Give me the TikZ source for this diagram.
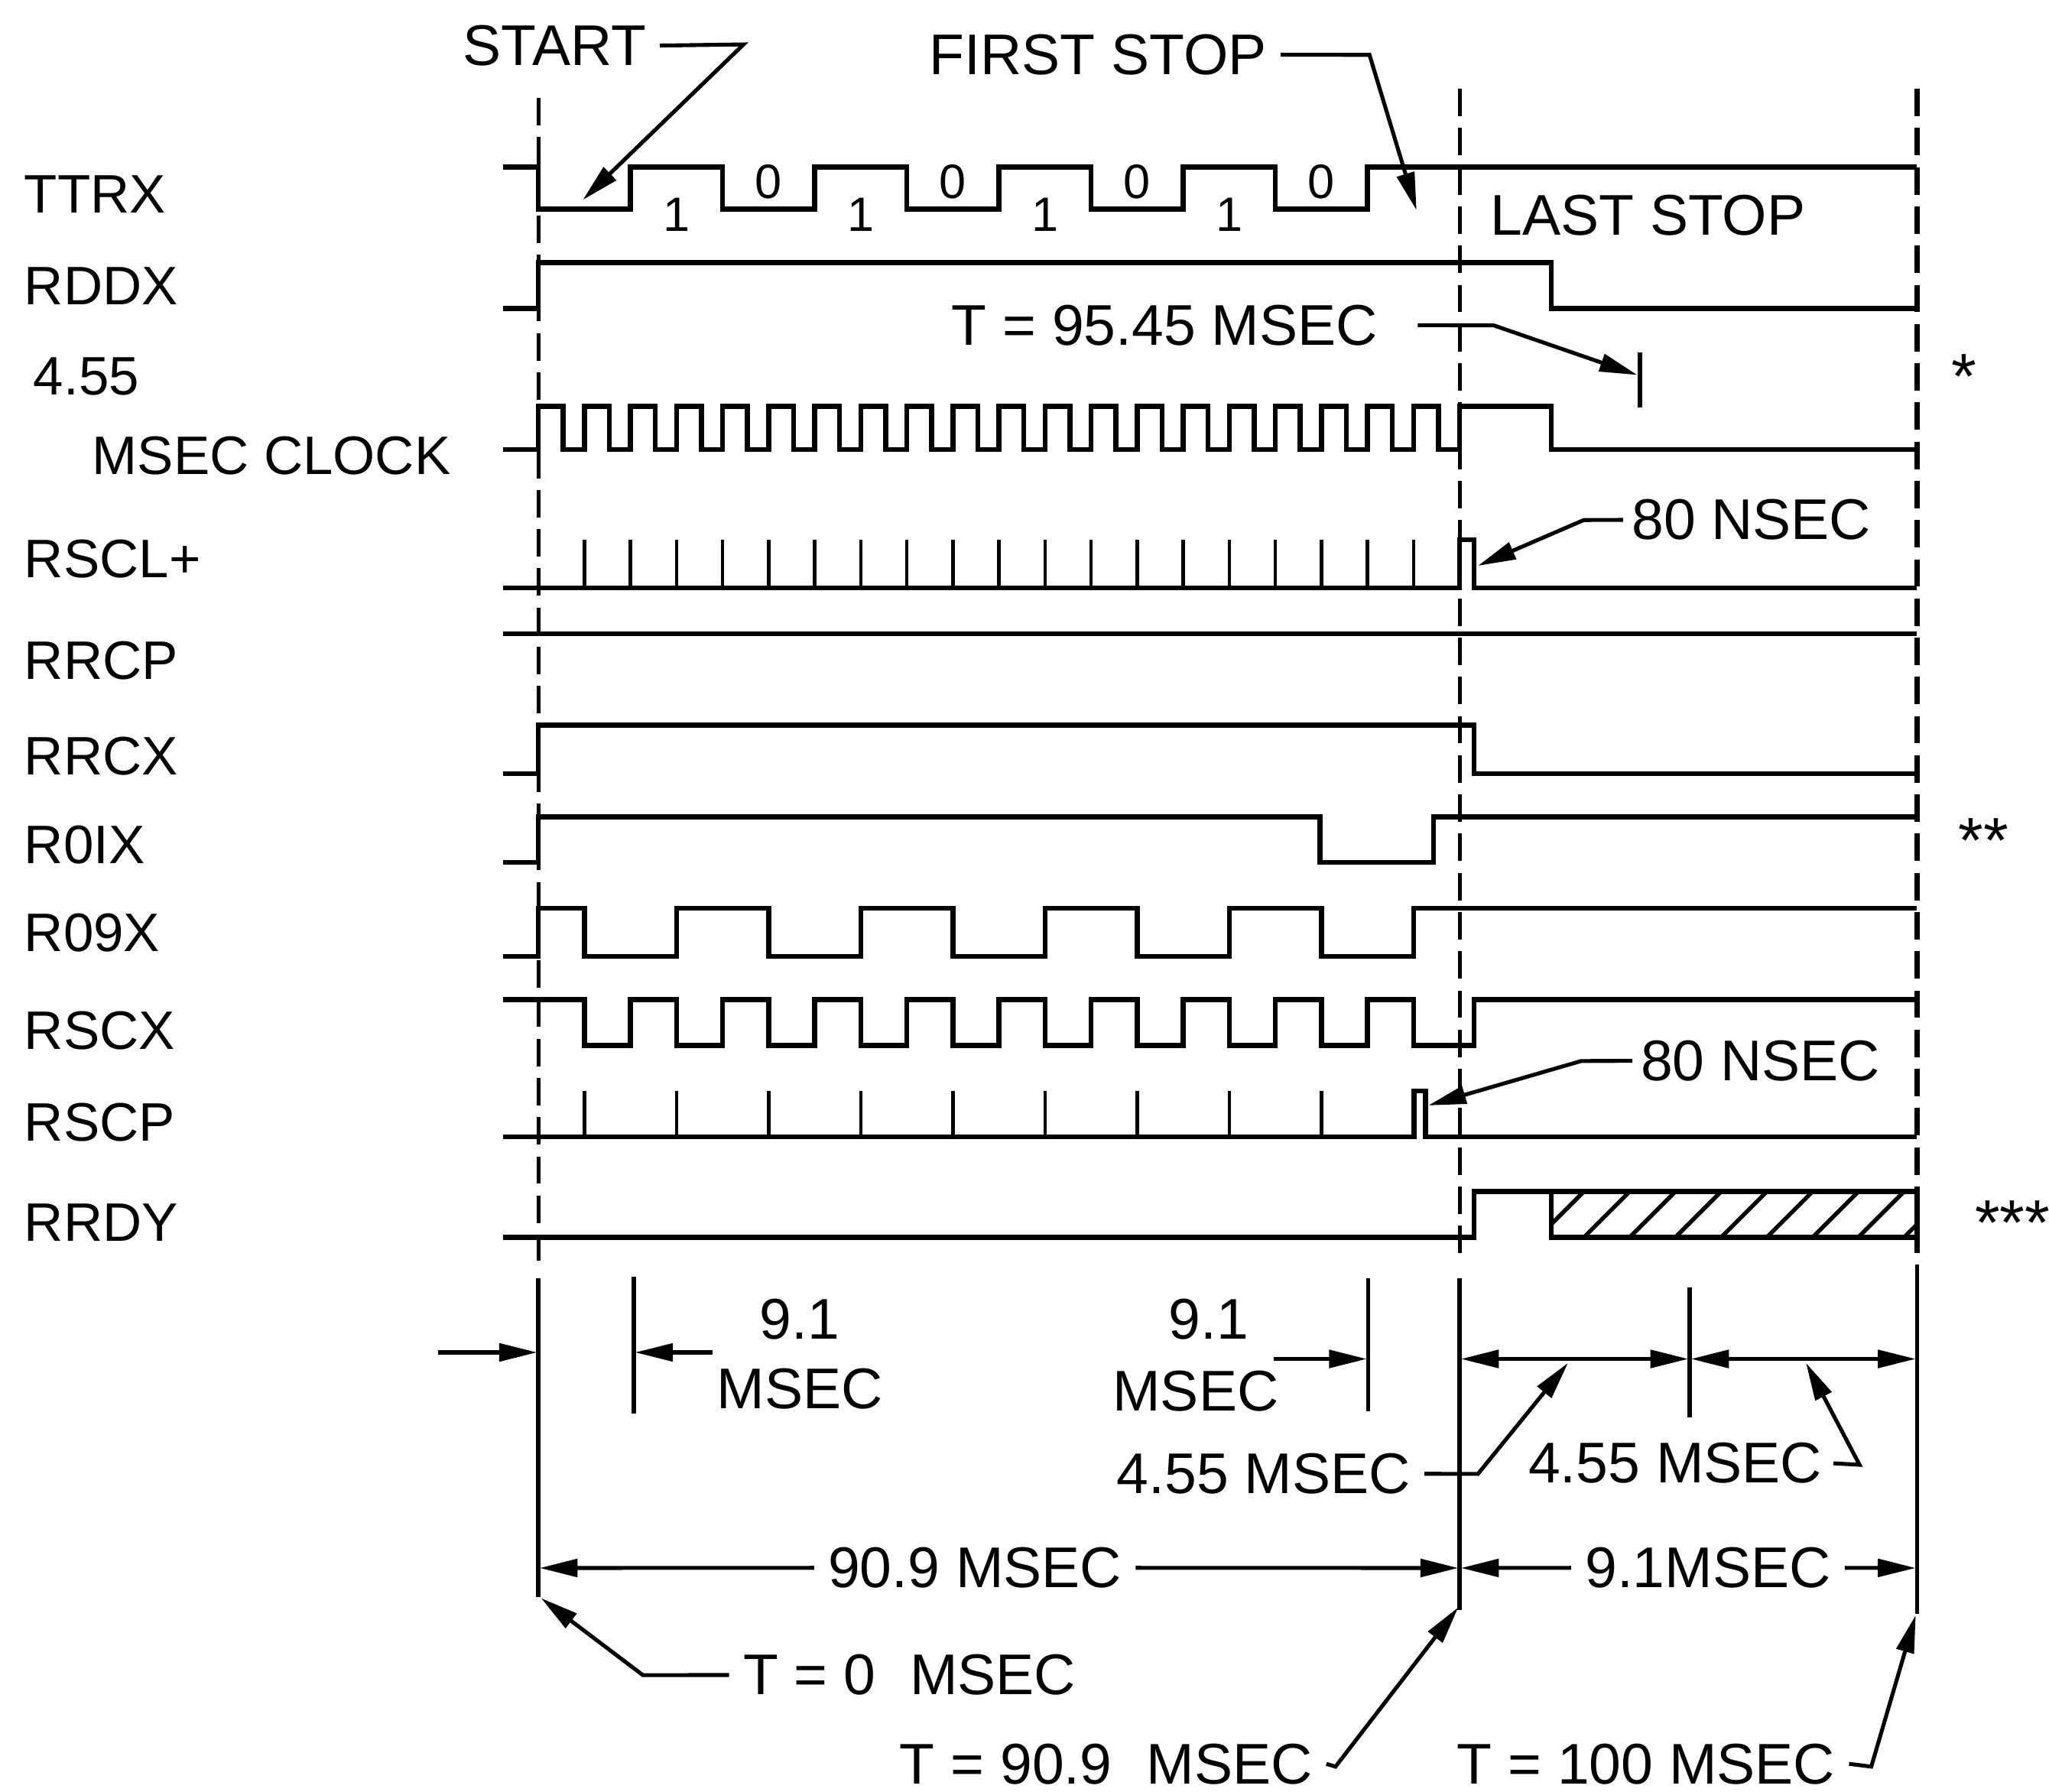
\documentclass[tikz,border=0pt]{standalone}
\usepackage{fontspec}
\setmainfont{Liberation Sans}
\usetikzlibrary{arrows.meta}
\begin{document}
\begin{tikzpicture}[x=0.1mm,y=-0.1mm,
  sig/.style={line width=1.1pt, line join=miter},
  tickln/.style={line width=0.75pt},
  gridln/.style={line width=0.85pt, dash pattern=on 2.1mm off 0.9mm},
  dim/.style={line width=0.85pt},
  arr/.style={dim,-{Triangle[length=2.9mm,width=1.35mm]}},
  darr/.style={dim,{Triangle[length=2.9mm,width=1.35mm]}-{Triangle[length=2.9mm,width=1.35mm]}},
  lbl/.style={inner sep=0pt, anchor=base west, font=\fontsize{11.8}{14}\selectfont},
  txt/.style={inner sep=0pt, anchor=base west, font=\fontsize{12.5}{15}\selectfont},
  txtr/.style={inner sep=0pt, anchor=base east, font=\fontsize{12.5}{15}\selectfont},
  ctxt/.style={inner sep=0pt, anchor=base, font=\fontsize{12.5}{15}\selectfont},
  bitlbl/.style={inner sep=0pt, anchor=base, font=\fontsize{10.5}{12}\selectfont},
]
\useasboundingbox (0,0) rectangle (1568,1371);

% ---------- signal names ----------
\node[lbl] (nTTRX) at (18,163) {TTRX};
\node[lbl] (nRDDX) at (18,233) {RDDX};
\node[lbl] (nclkA) at (25,302) {4.55};
\node[lbl] (nclkB) at (70,363) {MSEC CLOCK};
\node[lbl] (nRSCL) at (18,442) {RSCL+};
\node[lbl] (nRRCP) at (18,520) {RRCP};
\node[lbl] (nRRCX) at (18,593) {RRCX};
\node[lbl] (nROIX) at (18,661) {R0IX};
\node[lbl] (nRONX) at (18,728) {R09X};
\node[lbl] (nRSCX) at (18,803) {RSCX};
\node[lbl] (nRSCP) at (18,873) {RSCP};
\node[lbl] (nRRDY) at (18,950) {RRDY};

% ---------- dashed reference lines ----------
\draw[gridln] (412,75) -- (412,965);
\draw[gridln] (1117,68) -- (1117,965);
\draw[gridln, line width=1.25pt] (1467,68) -- (1467,965);

% ---------- TTRX ----------
\draw[sig] (385,128) -- (412,128) -- (412,160) -- (482.5,160) -- (482.5,128) -- (553,128) -- (553,160)
  -- (623.5,160) -- (623.5,128) -- (694,128) -- (694,160) -- (764.5,160) -- (764.5,128) -- (835,128)
  -- (835,160) -- (905.5,160) -- (905.5,128) -- (976,128) -- (976,160) -- (1046.5,160) -- (1046.5,128)
  -- (1467,128);
\foreach \c/\n in {517.75/a,658.75/b,799.75/c,940.75/d}
  \node[bitlbl] (one\n) at (\c,177) {1};
\foreach \c/\n in {588.25/a,729.25/b,870.25/c,1011.25/d}
  \node[bitlbl] (zero\n) at (\c,152) {0};

% ---------- RDDX ----------
\draw[sig] (385,236) -- (412,236) -- (412,201) -- (1187,201) -- (1187,236) -- (1467,236);

% ---------- 4.55 MSEC clock ----------
\draw[sig] (385,344) -- (412,344)
  foreach \i in {0,...,19} { -- ({412+\i*35.25},311) -- ({412+\i*35.25+19},311)
      -- ({412+\i*35.25+19},344) -- ({412+(\i+1)*35.25},344) }
  -- (1117,311) -- (1187,311) -- (1187,344) -- (1467,344);

% ---------- RSCL+ ----------
\draw[sig] (385,450) -- (1117,450) -- (1117,413) -- (1128,413) -- (1128,450) -- (1467,450);
\foreach \k in {1,...,19} \draw[tickln] ({412+\k*35.25},450) -- ++(0,-37);

% ---------- RRCP ----------
\draw[sig] (385,485) -- (1467,485);

% ---------- RRCX ----------
\draw[sig] (385,592) -- (412,592) -- (412,555) -- (1128,555) -- (1128,592) -- (1467,592);

% ---------- R0IX ----------
\draw[sig] (385,660) -- (412,660) -- (412,625) -- (1010,625) -- (1010,660) -- (1097,660) -- (1097,625) -- (1467,625);

% ---------- R09X ----------
\draw[sig] (385,732) -- (412,732) -- (412,695)
  foreach \m in {0,...,4} { -- ({412+(4*\m+1)*35.25},695) -- ({412+(4*\m+1)*35.25},732)
      -- ({412+(4*\m+3)*35.25},732) -- ({412+(4*\m+3)*35.25},695) }
  -- (1467,695);

% ---------- RSCX ----------
\draw[sig] (385,765)
  foreach \m in {0,...,8} { -- ({412+(2*\m+1)*35.25},765) -- ({412+(2*\m+1)*35.25},800)
      -- ({412+(2*\m+2)*35.25},800) -- ({412+(2*\m+2)*35.25},765) }
  -- (1081.75,765) -- (1081.75,800) -- (1128,800) -- (1128,765) -- (1467,765);

% ---------- RSCP ----------
\draw[sig] (385,870) -- (1082,870) -- (1082,835) -- (1091,835) -- (1091,870) -- (1467,870);
\foreach \m in {0,...,8} \draw[tickln] ({412+(2*\m+1)*35.25},870) -- ++(0,-35);

% ---------- RRDY ----------
\begin{scope}
  \clip (1187,912) rectangle (1467,947);
  \foreach \x in {1177,1212,...,1480} \draw[line width=0.9pt] (\x,947) -- ++(35,-35);
\end{scope}
\draw[sig] (385,947) -- (1128,947) -- (1128,912) -- (1467,912) -- (1467,947) -- (1187,947) -- (1187,912);

% ---------- top annotations ----------
\node[txtr] (START) at (495,50) {START};
\draw[arr] ([xshift=1mm]START.east) -- (569,34) -- (446,153);
\node[txtr] (FSTOP) at (970,57) {FIRST STOP};
\draw[arr] ([xshift=1mm]FSTOP.east) -- (1048,42) -- (1084,161);
\node[txt] (LSTOP) at (1140,180) {LAST STOP};
\node[txtr] (T95) at (1055,264) {T = 95.45 MSEC};
\draw[sig] (1255,270) -- (1255,312);
\coordinate (t95tip) at (1253,287);
\draw[arr] ([xshift=3mm]T95.east) -- (1143,249) -- (t95tip);
\node[txt] (NSa) at (1248,413) {80 NSEC};
\draw[arr] ([xshift=-0.6mm]NSa.west) -- (1212,398) -- (1131,433);
\node[txt] (NSb) at (1255,827) {80 NSEC};
\draw[arr] ([xshift=-0.6mm]NSb.west) -- (1210,812) -- (1093,846);

\node[ctxt, font=\fontsize{14}{16}\selectfont] (s1) at (1503,305) {*};
\node[ctxt, font=\fontsize{14}{16}\selectfont] (s2) at (1518,660) {**};
\node[ctxt, font=\fontsize{14}{16}\selectfont] (s3) at (1540,953) {***};

% ---------- bottom dimensions ----------
\coordinate (v0t) at (412,978);   \coordinate (v0b) at (412,1222);
\coordinate (v1t) at (485,977);   \coordinate (v1b) at (485,1082);
\coordinate (v2t) at (1047,978);  \coordinate (v2b) at (1047,1080);
\coordinate (v3t) at (1117,978);  \coordinate (v3b) at (1117,1232);
\coordinate (v4t) at (1293,985);  \coordinate (v4b) at (1293,1085);
\coordinate (v5t) at (1467,968);  \coordinate (v5b) at (1467,1235);
\foreach \v in {0,...,5} \draw[dim, line width=0.95pt] (v\v t) -- (v\v b);

\coordinate (a0) at (335,1035);
\draw[arr] (a0) -- (411,1035);
\draw[arr] (545,1035) -- (486,1035);
\node[ctxt] (n91a) at (612,1025) {9.1};
\node[ctxt] (m91a) at (612,1078) {MSEC};
\node[ctxt] (n91b) at (925,1025) {9.1};
\node[ctxt] (m91b) at (915,1080) {MSEC};
\draw[arr] (975,1040) -- (1046,1040);
\draw[darr] (1118,1040) -- (1292,1040);
\draw[darr] (1294,1040) -- (1466,1040);

\node[txtr] (L455) at (1080,1143) {4.55 MSEC};
\draw[arr] ([xshift=1mm]L455.east) -- (1131,1128) -- (1200,1043);
\node[txtr] (R455) at (1395,1135) {4.55 MSEC};
\draw[arr] ([xshift=0.8mm]R455.east) -- (1423,1121) -- (1382,1043);

\node[ctxt] (D909) at (746,1215) {90.9 MSEC};
\draw[arr] ([xshift=-1mm]D909.west) -- (413,1200);
\draw[arr] ([xshift=1mm]D909.east) -- (1116,1200);
\node[ctxt] (D91) at (1307,1215) {9.1MSEC};
\draw[arr] ([xshift=-1mm]D91.west) -- (1118,1200);
\draw[arr] ([xshift=1mm]D91.east) -- (1466,1200);

\node[txt] (T0) at (568,1297) {T = 0\hspace{0.6em}MSEC};
\draw[arr] ([xshift=-1mm]T0.west) -- (492,1282) -- (414,1223);
\node[txtr] (T909) at (1005,1365) {T = 90.9\hspace{0.6em}MSEC};
\draw[arr] ([xshift=1mm]T909.east) -- (1022,1352) -- (1116,1230);
\node[txtr] (T100) at (1405,1365) {T = 100 MSEC};
\draw[arr] ([xshift=1mm]T100.east) -- (1432,1352) -- (1466,1236);
\end{tikzpicture}
\end{document}
